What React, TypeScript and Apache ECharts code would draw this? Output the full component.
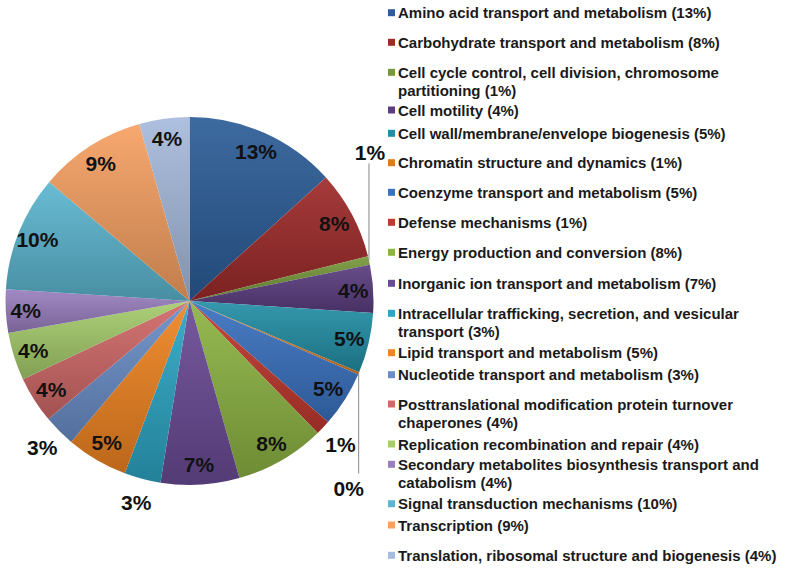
import React, { useEffect, useRef } from "react";
import * as echarts from "echarts";

// ---- data ----
const categories = [
  "Amino acid transport and metabolism",
  "Carbohydrate transport and metabolism",
  "Cell cycle control, cell division, chromosome\npartitioning",
  "Cell motility",
  "Cell wall/membrane/envelope biogenesis",
  "Chromatin structure and dynamics",
  "Coenzyme transport and metabolism",
  "Defense mechanisms",
  "Energy production and conversion",
  "Inorganic ion transport and metabolism",
  "Intracellular trafficking, secretion, and vesicular\ntransport",
  "Lipid transport and metabolism",
  "Nucleotide transport and metabolism",
  "Posttranslational modification protein turnover\nchaperones",
  "Replication recombination and repair",
  "Secondary metabolites biosynthesis transport and\ncatabolism",
  "Signal transduction mechanisms",
  "Transcription",
  "Translation, ribosomal structure and biogenesis",
];
const legendPct = [13, 8, 1, 4, 5, 1, 5, 1, 8, 7, 3, 5, 3, 4, 4, 4, 10, 9, 4];
const values = [13.3, 7.8, 0.75, 4.2, 5.3, 0.2, 4.9, 1.3, 7.9, 6.9, 3.2, 5.4, 2.8, 4.1, 4.2, 3.8, 10.2, 9.4, 4.4];

// ---- styles / layout ----
const baseColors = [
  "#2c5d98", "#9e2a2a", "#77983a", "#5b3d80", "#238fa6", "#e07a1f", "#3a72c0",
  "#c0392e", "#8db443", "#6b4b96", "#2da6c4", "#f08421", "#6a8ec8", "#d06968",
  "#a6cc6c", "#9a7fbf", "#5cb6d0", "#f6a062", "#a7bbdc",
];
// label placement: in = inside end, out = just outside, up/down = with vertical leader
const placement = [
  "in", "in", "up", "in", "in", "down", "in", "out", "in", "in",
  "out", "in", "out", "in", "in", "in", "in", "in", "in",
];
const legendLineY = [12.7, 42.3, 72.3, 110, 133.3, 162.7, 192.3, 222.3, 252.3, 283.3, 313.3, 352.7, 374.7, 404, 444, 464.3, 503.7, 525, 555.3];

const CX = 189.5;
const CY = 301;
const R = 184;
const FONT = "'Liberation Sans', Arial, Helvetica, sans-serif";

function shade(hex: string, f: number): string {
  const n = parseInt(hex.slice(1), 16);
  let r = (n >> 16) & 255, g = (n >> 8) & 255, b = n & 255;
  if (f >= 0) {
    r = r + (255 - r) * f; g = g + (255 - g) * f; b = b + (255 - b) * f;
  } else {
    r = r * (1 + f); g = g * (1 + f); b = b * (1 + f);
  }
  const h = (v: number) => Math.round(Math.max(0, Math.min(255, v))).toString(16).padStart(2, "0");
  return "#" + h(r) + h(g) + h(b);
}

const pctText = (p: any) => Math.round(p.percent) + "%";

export default function App() {
  const ref = useRef<HTMLDivElement>(null);
  useEffect(() => {
    if (!ref.current) return;
    const chart = echarts.init(ref.current, undefined, { renderer: "svg" });

    const labelFont = { fontSize: 21, fontWeight: "bold" as const, color: "#111", fontFamily: FONT };

    const mainData = categories.map((name, i) => ({
      name,
      value: values[i],
      itemStyle: {
        color: new echarts.graphic.LinearGradient(0, 0, 0, 1, [
          { offset: 0, color: shade(baseColors[i], 0.08) },
          { offset: 1, color: shade(baseColors[i], -0.22) },
        ]),
      },
      label: { show: placement[i] === "up" || placement[i] === "down" },
      labelLine: { show: placement[i] === "up" || placement[i] === "down" },
    }));

    const overlayData = (kind: string) =>
      categories.map((name, i) => ({
        name,
        value: values[i],
        itemStyle: { color: "rgba(0,0,0,0)" },
        label: { show: placement[i] === kind },
      }));

    const option: any = {
      animation: false,
      backgroundColor: "#ffffff",
      legend: categories.map((name, i) => {
        const twoLine = name.indexOf("\n") >= 0;
        return {
          data: [{ name, itemStyle: { color: baseColors[i] } }],
          left: 388,
          top: twoLine ? legendLineY[i] - 27 : legendLineY[i] - 9,
          orient: "vertical",
          padding: 0,
          itemWidth: 7,
          itemHeight: 7,
          icon: "rect",
          selectedMode: false,
          // two-line entries get an empty first line so the marker sits on the first text line
          formatter: (n: string) => (twoLine ? "\n" : "") + n + " (" + legendPct[i] + "%)",
          textStyle: {
            fontSize: 15,
            fontWeight: "bold",
            color: "#1a1a1a",
            fontFamily: FONT,
            lineHeight: 18,
            padding: [0, 0, 0, -2],
          },
        };
      }),
      series: [
        {
          type: "pie",
          center: [CX, CY],
          radius: R,
          startAngle: 90,
          clockwise: true,
          avoidLabelOverlap: false,
          silent: true,
          label: { ...labelFont, position: "outside", formatter: pctText },
          labelLine: { length: 10, length2: 0, lineStyle: { color: "#888888", width: 1 } },
          labelLayout: (p: any) => {
            const pts = p.labelLinePoints;
            if (!pts || !pts[0]) return {};
            const sx = pts[0][0];
            const sy = pts[0][1];
            if (placement[p.dataIndex] === "up") {
              return {
                x: sx + 1, y: sy - 108, align: "center", verticalAlign: "middle",
                labelLinePoints: [[sx, sy], [sx, sy - 97]],
              };
            }
            if (placement[p.dataIndex] === "down") {
              return {
                x: sx - 10, y: sy + 115, align: "center", verticalAlign: "middle",
                labelLinePoints: [[sx, sy], [sx, sy + 100]],
              };
            }
            return {};
          },
          data: mainData,
        },
        {
          type: "pie",
          center: [CX, CY],
          radius: [138, R],
          startAngle: 90,
          clockwise: true,
          silent: true,
          avoidLabelOverlap: false,
          label: { ...labelFont, position: "inside", formatter: pctText },
          labelLine: { show: false },
          emphasis: { disabled: true },
          data: overlayData("in"),
        },
        {
          type: "pie",
          center: [CX, CY],
          radius: [R, 226],
          startAngle: 90,
          clockwise: true,
          silent: true,
          avoidLabelOverlap: false,
          label: { ...labelFont, position: "inside", formatter: pctText },
          labelLine: { show: false },
          emphasis: { disabled: true },
          data: overlayData("out"),
        },
      ],
    };
    chart.setOption(option);
    return () => chart.dispose();
  }, []);
  return (
    <div
      ref={ref}
      style={{ position: "absolute", left: 0, top: 0, width: 787, height: 569 }}
    />
  );
}
